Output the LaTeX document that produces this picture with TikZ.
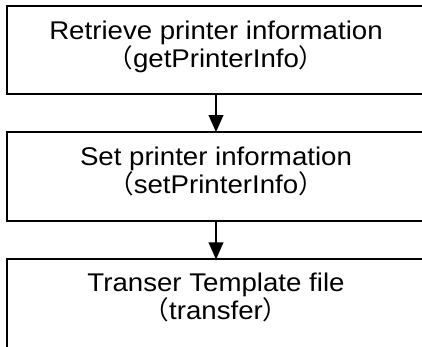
\documentclass[tikz,border=0pt]{standalone}
\usepackage{fontspec}
\setmainfont[FakeStretch=1.08]{Liberation Sans}
\newfontfamily\cjk{Noto Sans CJK JP}
\usetikzlibrary{arrows.meta}
\tikzset{
  stepbox/.style={draw=black, line width=2pt, minimum width=440pt, minimum height=88.5pt, inner sep=0pt, outer sep=0pt},
  steptext/.style={anchor=base, inner sep=0pt, font=\fontsize{25.6}{28}\selectfont},
  flowarrow/.style={line width=2pt, -{Triangle[length=17pt,width=14.5pt]}}
}
\begin{document}
\begin{tikzpicture}[x=1pt,y=-1pt]
\useasboundingbox (0,0) rectangle (422,347);
\clip (0,0) rectangle (422,347);
\node[stepbox] (b1) at (227,50) {};
\node[stepbox] (b2) at (227,176.4) {};
\node[stepbox] (b3) at (227,303.7) {};
\node[steptext] (t1a) at (216,40) {Retrieve printer information};
\node[steptext] (t1b) at (216,68) {{\cjk （}getPrinterInfo{\cjk ）}};
\node[steptext] (t2a) at (216,165.3) {Set printer information};
\node[steptext] (t2b) at (216,193.3) {{\cjk （}setPrinterInfo{\cjk ）}};
\node[steptext] (t3a) at (216,291.7) {Transer Template file};
\node[steptext] (t3b) at (216,319.7) {{\cjk （}transfer{\cjk ）}};
\draw[flowarrow] (t1a |- b1.south) -- (t1a |- b2.north);
\draw[flowarrow] (t1a |- b2.south) -- (t1a |- b3.north);
\end{tikzpicture}
\end{document}
